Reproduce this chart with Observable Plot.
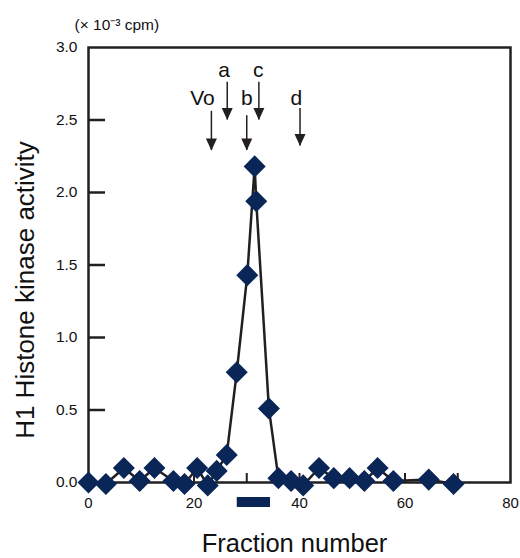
<!DOCTYPE html>
<html>
<head>
<meta charset="utf-8">
<script src="https://cdn.jsdelivr.net/npm/d3@7"></script>
<script src="https://cdn.jsdelivr.net/npm/@observablehq/plot@0.6"></script>
<style>
  html, body { margin: 0; padding: 0; background: #fff; }
  #chart svg { display: block; }
</style>
</head>
<body>
<div id="chart"></div>
<script>
// Data
const fraction = [0, 3.3, 6.7, 9.7, 12.5, 16.1, 18.2, 20.6, 22.6, 24.3, 26.2, 28.1, 30.1, 31.5, 31.8, 34.2, 36.0, 38.4, 40.7, 43.7, 46.5, 49.5, 52.3, 54.8, 57.8, 64.5, 69.2];
const activity = [0.0, -0.01, 0.10, 0.01, 0.10, 0.01, -0.01, 0.10, -0.02, 0.08, 0.19, 0.76, 1.43, 2.18, 1.94, 0.51, 0.03, 0.01, -0.02, 0.10, 0.03, 0.03, 0.01, 0.10, 0.01, 0.02, -0.01];

// Marker arrows (Vo, a, b, c, d)
const markerLabels = ["Vo", "a", "b", "c", "d"];
const markerX = [23.3, 26.3, 30.0, 32.3, 40.1];
const markerTop = [2.56, 2.76, 2.53, 2.76, 2.58];
const markerTip = [2.29, 2.50, 2.29, 2.50, 2.32];
const markerLabelX = [21.6, 25.7, 30.0, 32.2, 39.4];
const markerLabelY = [2.65, 2.84, 2.65, 2.84, 2.65];

// Pooled fractions bar below axis
const poolStart = [28.2];
const poolEnd = [34.5];

const xTickLabels = [0, 20, 40, 60, 80];
const xTicks = [10, 20, 30, 40, 50, 60, 70];
const yTicks = [0, 0.5, 1.0, 1.5, 2.0, 2.5, 3.0];

const width = 520, height = 558;
const mLeft = 88, mRight = 10, mTop = 47, mBottom = 76;
const xDomain = [0, 80], yDomain = [0, 3];
const pxPerX = (width - mLeft - mRight) / (xDomain[1] - xDomain[0]);
const pxPerY = (height - mTop - mBottom) / (yDomain[1] - yDomain[0]);

const points = fraction.map((f, i) => ({f, v: activity[i]}));
const markers = markerLabels.map((l, i) => ({l, x: markerX[i], top: markerTop[i], tip: markerTip[i], lx: markerLabelX[i], ly: markerLabelY[i]}));
const pool = poolStart.map((s, i) => ({s, e: poolEnd[i]}));

const ink = "#231f20";
const navy = "#0a2657";
const font = "Liberation Sans, Arial, Helvetica, sans-serif";

const downTriangle = {
  draw(context) {
    context.moveTo(-5.5, -12);
    context.lineTo(5.5, -12);
    context.lineTo(0, 0);
    context.closePath();
  }
};

const yTickLen = 17 / pxPerX;
const xTickLen = 9 / pxPerY;

const chart = Plot.plot({
  width, height,
  marginLeft: mLeft, marginRight: mRight, marginTop: mTop, marginBottom: mBottom,
  style: {fontFamily: font, color: "#111"},
  x: {domain: xDomain},
  y: {domain: yDomain},
  marks: [
    Plot.axisY({ticks: yTicks, tickSize: 0, tickPadding: 11, tickFormat: d3.format(".1f"), fontSize: 15.5, label: null}),
    Plot.axisX({ticks: xTickLabels, tickSize: 0, tickPadding: 15, fontSize: 15, label: null}),
    Plot.ruleY(yTicks.slice(1, -1), {x1: 0, x2: yTickLen, stroke: ink, strokeWidth: 2.5}),
    Plot.ruleX(xTicks, {y1: 0, y2: xTickLen, stroke: ink, strokeWidth: 2}),
    Plot.frame({stroke: ink, strokeWidth: 2.5}),
    Plot.rect(pool, {x1: "s", x2: "e", y1: -15 / pxPerY, y2: -25 / pxPerY, fill: navy}),
    Plot.line(points, {x: "f", y: "v", stroke: ink, strokeWidth: 2.5}),
    Plot.dot(points, {x: "f", y: "v", symbol: "square", rotate: 45, r: 8.8, fill: navy, stroke: "none"}),
    Plot.ruleX(markers, {x: "x", y1: "top", y2: "tip", stroke: ink, strokeWidth: 1.5}),
    Plot.dot(markers, {x: "x", y: "tip", symbol: downTriangle, r: 5, fill: ink, stroke: "none"}),
    Plot.text(markers, {x: "lx", y: "ly", text: "l", fontSize: 21, fill: "#111"}),
    Plot.text(["H1 Histone kinase activity"], {frameAnchor: "left", text: d => d, textAnchor: "middle", lineAnchor: "middle", rotate: -90, dx: -63, dy: 25, fontSize: 26, fill: "#111"}),
    Plot.text(["Fraction number"], {frameAnchor: "bottom", text: d => d, textAnchor: "middle", lineAnchor: "middle", dx: -5, dy: 61, fontSize: 25.5, fill: "#111"}),
    Plot.text(["(× 10⁻³ cpm)"], {frameAnchor: "top-left", text: d => d, textAnchor: "start", lineAnchor: "middle", dx: -14, dy: -22, fontSize: 15.5, fill: "#111"})
  ]
});
document.getElementById("chart").appendChild(chart);
</script>
</body>
</html>
